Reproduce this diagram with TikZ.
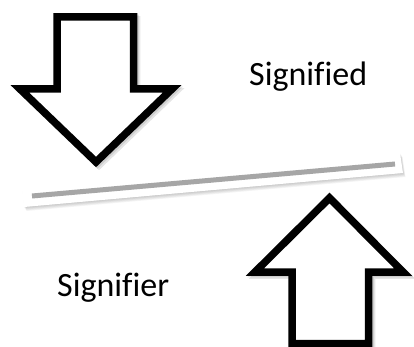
\documentclass[tikz,border=0pt]{standalone}
\usepackage{fontspec}
\setmainfont[Ligatures={NoCommon}]{Carlito}
\tikzset{
  arrowshape/.style={draw=black, fill=white, line width=7.5pt, miter limit=10, line join=miter},
  arrowshadow/.style={draw=black, line width=7.5pt, line join=miter, opacity=0.1},
  barshadow/.style={fill=black, opacity=0.045},
  label/.style={font=\fontsize{34}{40}\selectfont, anchor=base west, inner sep=0pt}
}
\begin{document}
\begin{tikzpicture}[x=1pt,y=-1pt]
\useasboundingbox (0,0) rectangle (414,347);
% bar shadow (soft)
\foreach \d in {1,2,3,4,5}{
  \fill[barshadow] (22+\d*0.5,189+\d*0.8) -- (400+\d*0.5,153+\d*0.8) -- (403+\d*0.5,173+\d*0.8) -- (24+\d*0.5,207+\d*0.8) -- cycle;
}
% bar
\coordinate (b1) at (22,189);
\coordinate (b2) at (400,153);
\coordinate (b3) at (403,173);
\coordinate (b4) at (24,207);
\fill[white] (b1) -- (b2) -- (b3) -- (b4) -- cycle;
\coordinate (g1) at (32,196);
\coordinate (g2) at (395,164);
\draw[line width=5pt, color={rgb,255:red,166;green,166;blue,166}] (g1) -- (g2);
% down arrow
\foreach \d in {1.5,3}{
\draw[arrowshadow, shift={(\d,\d)}] (57,17) -- (133.5,17) -- (133.5,89) -- (172,89) -- (96,162) -- (20,89) -- (57,89) -- cycle;
}
\draw[arrowshape] (57,17) -- (133.5,17) -- (133.5,89) -- (172,89) -- (96,162) -- (20,89) -- (57,89) -- cycle;
% up arrow
\foreach \d in {1.5,3}{
\draw[arrowshadow, shift={(\d,\d)}] (292,343.5) -- (292,272) -- (255,272) -- (329.5,198) -- (403,272) -- (368.5,272) -- (368.5,343.5) -- cycle;
}
\draw[arrowshape] (292,343.5) -- (292,272) -- (255,272) -- (329.5,198) -- (403,272) -- (368.5,272) -- (368.5,343.5) -- cycle;
% labels
\node[label] (signified) at (249,86) {Signified};
\node[label] (signifier) at (57,296) {Signifier};
\end{tikzpicture}
\end{document}
